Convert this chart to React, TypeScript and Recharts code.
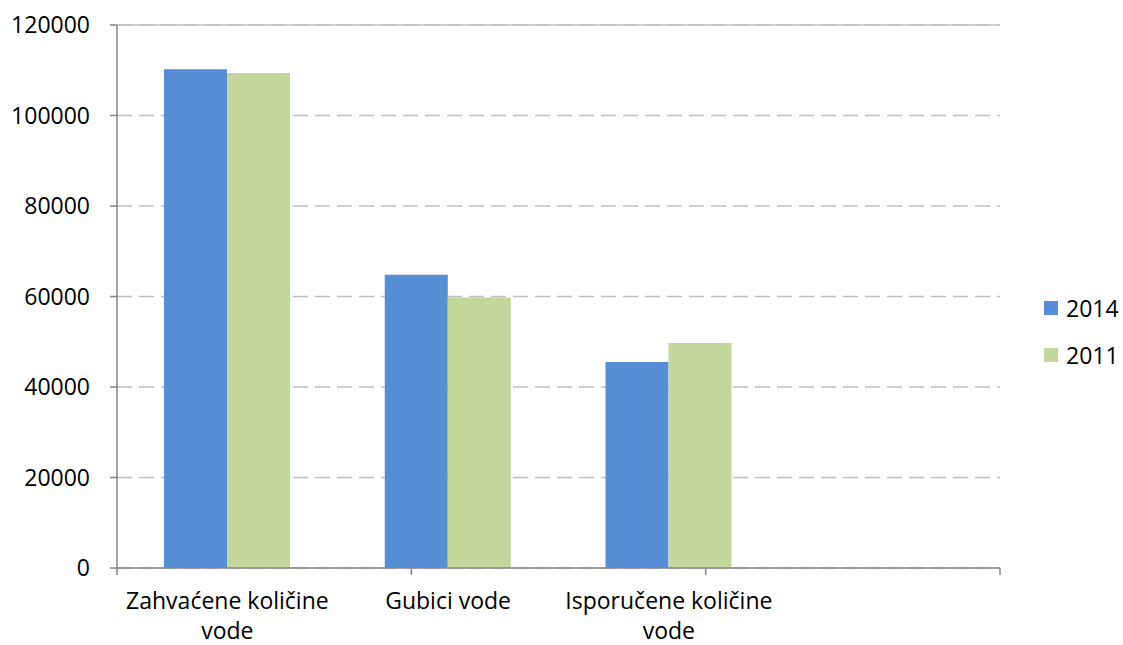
import { Bar, BarChart, CartesianGrid, Legend, ReferenceLine, XAxis, YAxis } from "recharts"

const categories = ['Zahvaćene količine vode', 'Gubici vode', 'Isporučene količine vode', '']
const values2014 = [110200, 64800, 45500, null]
const values2011 = [109400, 59800, 49700, null]
const yTicks = [0, 20000, 40000, 60000, 80000, 100000, 120000]
const boundaryTicks = [0, 1, 2, 3, 4]
const seriesNames = ['2014', '2011']

const FONT = '"Open Sans", sans-serif'
const FONT_SIZE = 23
const BLUE = '#558ED5'
const GREEN = '#C3D69B'
const AXIS = '#868686'
const GRID = '#BFBFBF'

const data = categories.map((name, i) => ({
    name,
    [seriesNames[0]]: values2014[i],
    [seriesNames[1]]: values2011[i],
}))

// greedy word wrap, about 19 characters per line
const wrap = (label: string, max = 19) => {
    const lines: string[] = []
    let cur = ''
    label.split(' ').forEach((w) => {
        if (cur && (cur + ' ' + w).length > max) {
            lines.push(cur)
            cur = w
        } else {
            cur = cur ? cur + ' ' + w : w
        }
    })
    if (cur) lines.push(cur)
    return lines
}

const CategoryTick = (props: any) => {
    const { x, y, payload } = props
    const lines = wrap(String(payload.value ?? ''))
    return (
        <text x={x} y={y + 32} textAnchor="middle" fill="#000" fontSize={FONT_SIZE} fontFamily={FONT}>
            {lines.map((l, i) => (
                <tspan key={i} x={x} dy={i === 0 ? 0 : 30}>{l}</tspan>
            ))}
        </text>
    )
}

const EmptyTick = () => <g />

const LegendBox = () => {
    const colors = [BLUE, GREEN]
    return (
        <div style={{ fontFamily: FONT, fontSize: FONT_SIZE, color: '#000' }}>
            {seriesNames.map((s, i) => (
                <div key={s} style={{ display: 'flex', alignItems: 'center', height: 47 }}>
                    <span style={{ width: 14, height: 14, background: colors[i], marginRight: 8, display: 'inline-block' }} />
                    {s}
                </div>
            ))}
        </div>
    )
}

const App = () => {
    return (
        <div style={{ position: 'absolute', left: 0, top: 0, background: '#fff' }}>
            <BarChart
                width={1123}
                height={645}
                data={data}
                barSize={63}
                barGap={0}
                margin={{ top: 25, right: 123, bottom: 0, left: 0 }}
            >
                <CartesianGrid xAxisId="cat" vertical={false} stroke={GRID} strokeDasharray="15 7" strokeWidth={1.5} />
                <XAxis
                    xAxisId="bound"
                    type="number"
                    domain={[0, 4]}
                    allowDataOverflow
                    ticks={boundaryTicks}
                    tick={<EmptyTick />}
                    tickSize={7}
                    height={1}
                    axisLine={{ stroke: AXIS, strokeWidth: 1.5 }}
                    tickLine={{ stroke: AXIS, strokeWidth: 1.5 }}
                />
                <XAxis
                    xAxisId="cat"
                    dataKey="name"
                    axisLine={false}
                    tickLine={false}
                    height={76}
                    interval={0}
                    tick={<CategoryTick />}
                />
                <YAxis
                    width={117}
                    domain={[0, 120000]}
                    ticks={yTicks}
                    tickSize={7}
                    tickMargin={20}
                    axisLine={{ stroke: AXIS, strokeWidth: 1.5 }}
                    tickLine={{ stroke: AXIS, strokeWidth: 1.5 }}
                    tick={{ fill: '#000', fontSize: FONT_SIZE, fontFamily: FONT }}
                />
                <ReferenceLine xAxisId="cat" y={120000} stroke={GRID} strokeWidth={1.5} />
                <ReferenceLine xAxisId="bound" x={4} stroke={GRID} strokeWidth={1.5} />
                <Legend
                    layout="vertical"
                    align="center"
                    verticalAlign="middle"
                    content={<LegendBox />}
                    wrapperStyle={{ left: 1044, top: 284, width: 79 }}
                />
                <Bar xAxisId="cat" dataKey="2014" fill={BLUE} isAnimationActive={false} />
                <Bar xAxisId="cat" dataKey="2011" fill={GREEN} isAnimationActive={false} />
            </BarChart>
        </div>
    )
}

export default App
